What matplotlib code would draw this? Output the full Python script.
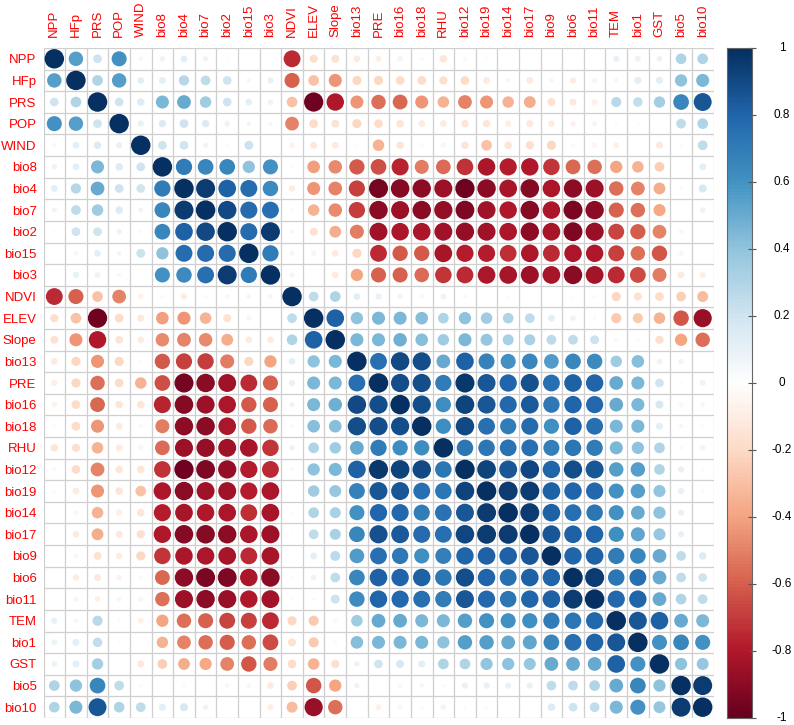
import numpy as np
import matplotlib
matplotlib.use("Agg")
import matplotlib.pyplot as plt
from matplotlib.colors import LinearSegmentedColormap, Normalize
from matplotlib.patches import Circle

# -----------------------
# Data (read off the reference corrplot)
# -----------------------
VARS = ["NPP", "HFp", "PRS", "POP", "WIND", "bio8", "bio4", "bio7", "bio2",
        "bio15", "bio3", "NDVI", "ELEV", "Slope", "bio13", "PRE", "bio16",
        "bio18", "RHU", "bio12", "bio19", "bio14", "bio17", "bio9", "bio6",
        "bio11", "TEM", "bio1", "GST", "bio5", "bio10"]

# upper triangle, row i holds the correlations with columns i+1 .. n-1
UPPER = [
    [.55, .2, .6, .05, .08, .12, .07, .02, 0, -.02, -.75, -.18, -.17, -.12, -.1, -.08, -.04, -.15, -.05, -.03, 0, .01, 0, 0, 0, .1, .09, .09, .3, .3],
    [.3, .55, .12, .12, .28, .25, .2, .05, .1, -.6, -.3, -.45, -.22, -.22, -.2, -.2, -.18, -.2, -.12, -.06, -.12, -.06, -.11, -.07, .05, .13, .13, .4, .45],
    [.2, .15, .45, .5, .35, .2, .12, .08, -.3, -.98, -.8, -.45, -.55, -.58, -.45, -.35, -.5, -.45, -.35, -.37, -.17, -.13, -.09, .27, .24, .34, .65, .85],
    [.1, .15, .2, .15, .08, .06, .05, -.5, -.2, -.16, -.22, -.2, -.15, -.12, -.12, -.15, -.15, -.1, -.13, -.11, -.08, -.07, -.03, .02, -.02, .25, .3],
    [.2, .2, .07, .03, .21, 0, -.08, -.13, -.12, -.03, -.35, -.15, -.05, -.07, -.15, -.3, -.15, -.18, -.22, -.05, -.07, -.09, 0, -.13, .03, .25],
    [.7, .65, .65, .4, .6, -.04, -.42, -.48, -.62, -.65, -.77, -.52, -.57, -.73, -.81, -.78, -.8, -.72, -.58, -.55, -.4, -.35, -.25, -.01, .13],
    [.95, .82, .76, .63, -.11, -.45, -.5, -.69, -.96, -.91, -.89, -.86, -.98, -.9, -.83, -.91, -.81, -.89, -.86, -.55, -.5, -.37, .03, .17],
    [.9, .77, .75, -.04, -.35, -.48, -.7, -.9, -.86, -.9, -.88, -.93, -.85, -.8, -.91, -.81, -.95, -.89, -.6, -.55, -.39, .01, .08],
    [.77, .95, .05, -.17, -.37, -.52, -.85, -.81, -.82, -.85, -.88, -.85, -.82, -.89, -.83, -.94, -.87, -.67, -.61, -.5, -.06, -.02],
    [.7, .06, -.07, -.12, -.22, -.75, -.62, -.62, -.83, -.78, -.78, -.74, -.82, -.75, -.81, -.8, -.68, -.55, -.63, -.06, 0],
    [.06, -.02, -.12, -.4, -.6, -.6, -.56, -.72, -.75, -.82, -.83, -.86, -.83, -.9, -.84, -.75, -.66, -.52, -.12, -.1],
    [.25, .3, .12, .1, .07, .04, .08, .04, 0, -.03, -.02, 0, -.03, -.04, -.22, -.17, -.2, -.25, -.32],
    [.82, .4, .45, .45, .42, .3, .4, .35, .3, .25, .12, .08, .03, -.27, -.27, -.35, -.63, -.87],
    [.45, .45, .48, .42, .35, .45, .38, .32, .32, .26, .25, .21, -.05, -.04, -.18, -.4, -.55],
    [.75, .9, .88, .5, .82, .67, .6, .65, .57, .65, .63, .35, .42, .08, .07, .01],
    [.88, .88, .7, .96, .85, .79, .87, .75, .82, .8, .5, .45, .2, .02, -.09],
    [.88, .62, .92, .85, .78, .84, .71, .8, .78, .5, .45, .17, .05, -.06],
    [.62, .9, .75, .69, .77, .61, .81, .75, .45, .45, .13, .05, -.03],
    [.72, .72, .74, .75, .68, .72, .7, .45, .4, .3, -.04, -.08],
    [.92, .85, .91, .8, .88, .85, .55, .55, .3, .1, -.03],
    [.95, .95, .82, .8, .78, .6, .55, .39, .1, -.04],
    [.95, .82, .75, .72, .6, .5, .4, .1, 0],
    [.85, .82, .8, .61, .52, .38, .1, .01],
    [.8, .82, .7, .65, .5, .25, .15],
    [.95, .72, .75, .5, .25, .2],
    [.78, .8, .5, .3, .25],
    [.85, .82, .5, .45],
    [.6, .65, .6],
    [.4, .38],
    [.95],
]

CBAR_TICKS = [1, 0.8, 0.6, 0.4, 0.2, 0, -0.2, -0.4, -0.6, -0.8, -1]

# corrplot's COL2("RdBu")
RDBU = ["#67001F", "#B2182B", "#D6604D", "#F4A582", "#FDDBC7", "#FFFFFF",
        "#D1E5F0", "#92C5DE", "#4393C3", "#2166AC", "#053061"]


def build_matrix() -> np.ndarray:
    n = len(VARS)
    m = np.eye(n)
    for i, row in enumerate(UPPER):
        assert len(row) == n - i - 1, (VARS[i], len(row))
        m[i, i + 1:] = row
        m[i + 1:, i] = row
    return m


def main():
    plt.rcParams["font.family"] = ["Liberation Sans", "DejaVu Sans"]
    W, H = 794, 725
    cmap = LinearSegmentedColormap.from_list("rdbu", RDBU, N=200)
    norm = Normalize(-1, 1)

    corr = build_matrix()
    n = len(VARS)

    fig = plt.figure(figsize=(W / 100, H / 100), dpi=100)

    # ---- matrix ----
    left, top, size = 43.5, 48.0, 670.0
    ax = fig.add_axes([left / W, (H - top - size) / H, size / W, size / H])
    for i in range(n):
        for j in range(n):
            r = corr[i, j]
            rad = 0.45 * np.sqrt(abs(r))
            if rad <= 0:
                continue
            ax.add_patch(Circle((j + 0.5, i + 0.5), rad, facecolor=cmap(norm(r)),
                                edgecolor="none"))

    grid_col = "#CFCFCF"
    ax.hlines(np.arange(n + 1), 0, n, colors=grid_col, lw=0.9, zorder=0)
    ax.vlines(np.arange(n + 1), 0, n, colors=grid_col, lw=0.9, zorder=0)
    ax.set_xlim(0, n)
    ax.set_ylim(n, 0)
    for s in ax.spines.values():
        s.set_visible(False)

    ax.xaxis.tick_top()
    ax.set_xticks(np.arange(n) + 0.5)
    ax.set_xticklabels(VARS, rotation=90, color="red", fontsize=9.5)
    ax.set_yticks(np.arange(n) + 0.5)
    ax.set_yticklabels(VARS, color="red", fontsize=9.5)
    ax.tick_params(axis="x", length=0, pad=8)
    ax.tick_params(axis="y", length=0, pad=5)

    # ---- colour bar ----
    cax = fig.add_axes([727 / W, (H - 718) / H, 25 / W, 670 / H])
    grad = np.linspace(-1, 1, 200).reshape(-1, 1)
    cax.imshow(grad, cmap=cmap, norm=norm, aspect="auto", origin="lower",
               extent=[0, 1, -1, 1])
    cax.set_xlim(0, 1)
    cax.set_ylim(-1, 1)
    cax.set_xticks([])
    cax.yaxis.tick_right()
    cax.set_yticks(CBAR_TICKS)
    cax.set_yticklabels([])
    cax.tick_params(axis="y", direction="inout", length=6, width=0.8, color="#555555")
    for s in cax.spines.values():
        s.set_color("#666666")
        s.set_linewidth(0.8)
    for v in CBAR_TICKS:
        cax.text((782 - 727) / 25, v, f"{v:g}", ha="center", va="center",
                 fontsize=8.5, color="black", transform=cax.get_yaxis_transform())

    fig.savefig("out.png", dpi=100, facecolor="white")


if __name__ == "__main__":
    main()
